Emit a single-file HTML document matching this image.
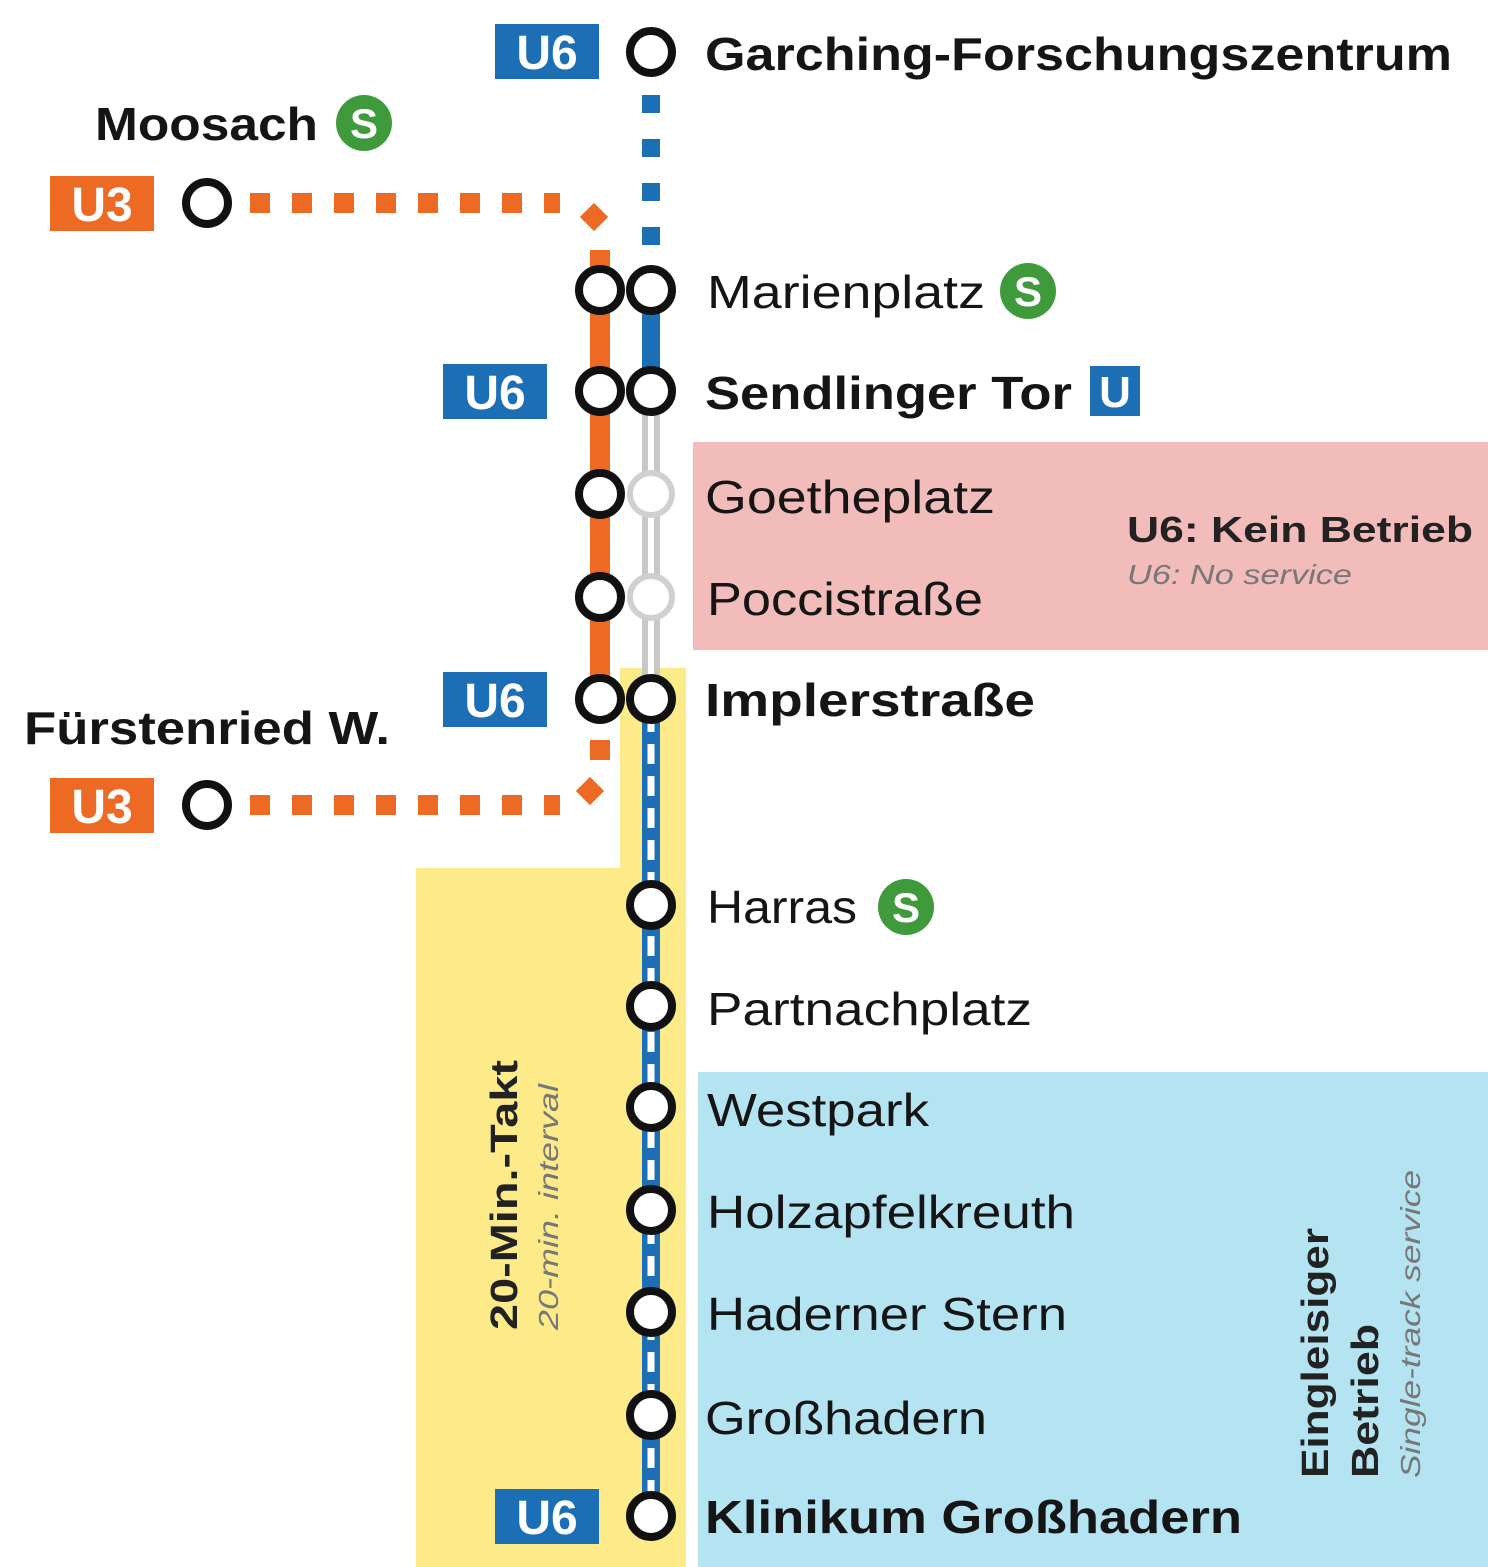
<!DOCTYPE html>
<html><head><meta charset="utf-8"><style>
html,body{margin:0;padding:0;background:#fff;}
svg{display:block;}
text{font-family:"Liberation Sans",sans-serif;}
</style></head><body>
<svg width="1488" height="1567" viewBox="0 0 1488 1567" xmlns="http://www.w3.org/2000/svg">
<defs>
<g id="sb"><circle r="28" fill="#3f9a3c"/><text x="0" y="15" text-anchor="middle" font-size="42" font-weight="bold" fill="#fff">S</text></g>
</defs>
<rect x="693" y="442" width="795" height="208" fill="#f2bcba"/>
<path d="M620 668 H686 V1567 H416 V868 H620 Z" fill="#fdeb8a"/>
<rect x="698" y="1072" width="790" height="495" fill="#b4e3f2"/>

<line x1="651" y1="95" x2="651" y2="245" stroke="#1c6fb5" stroke-width="18" stroke-dasharray="18 26"/>
<line x1="651" y1="290" x2="651" y2="391" stroke="#1c6fb5" stroke-width="18"/>
<line x1="651" y1="391" x2="651" y2="699" stroke="#c8c8c8" stroke-width="18"/>
<line x1="651" y1="391" x2="651" y2="699" stroke="#fff" stroke-width="6"/>
<line x1="651" y1="699" x2="651" y2="1516" stroke="#1c6fb5" stroke-width="18"/>
<line x1="651" y1="712" x2="651" y2="1516" stroke="#fff" stroke-width="7" stroke-dasharray="20 12"/>
<line x1="600" y1="250" x2="600" y2="699" stroke="#ec6a23" stroke-width="20"/>
<line x1="250" y1="203" x2="560" y2="203" stroke="#ec6a23" stroke-width="20" stroke-dasharray="20 22"/>
<rect x="584" y="207" width="20" height="20" fill="#ec6a23" transform="rotate(45 594 217)"/>
<line x1="600" y1="740" x2="600" y2="760" stroke="#ec6a23" stroke-width="20"/>
<line x1="250" y1="805" x2="560" y2="805" stroke="#ec6a23" stroke-width="20" stroke-dasharray="20 22"/>
<rect x="580" y="781" width="20" height="20" fill="#ec6a23" transform="rotate(45 590 791)"/>

<g fill="#fff" stroke="#111" stroke-width="8">
<circle cx="651" cy="52" r="21"/>
<circle cx="207" cy="203" r="21"/>
<circle cx="207" cy="805" r="21"/>
<circle cx="600" cy="290" r="21"/><circle cx="651" cy="290" r="21"/>
<circle cx="600" cy="391" r="21"/><circle cx="651" cy="391" r="21"/>
<circle cx="600" cy="494" r="21"/>
<circle cx="600" cy="597" r="21"/>
<circle cx="600" cy="699" r="21"/><circle cx="651" cy="699" r="21"/>
<circle cx="651" cy="905" r="21"/>
<circle cx="651" cy="1006" r="21"/>
<circle cx="651" cy="1107" r="21"/>
<circle cx="651" cy="1210" r="21"/>
<circle cx="651" cy="1312" r="21"/>
<circle cx="651" cy="1415" r="21"/>
<circle cx="651" cy="1516" r="21"/>
</g>
<g fill="#fff" stroke="#d0d0d0" stroke-width="6">
<circle cx="651" cy="494" r="21"/>
<circle cx="651" cy="597" r="21"/>
</g>

<g font-weight="bold" font-size="48" fill="#fff" text-anchor="middle">
<rect x="495" y="24" width="104" height="55" fill="#1c6fb5"/><text x="547" y="69">U6</text>
<rect x="443" y="364" width="104" height="55" fill="#1c6fb5"/><text x="495" y="409">U6</text>
<rect x="443" y="672" width="104" height="55" fill="#1c6fb5"/><text x="495" y="717">U6</text>
<rect x="495" y="1489" width="104" height="55" fill="#1c6fb5"/><text x="547" y="1534">U6</text>
<rect x="50" y="176" width="104" height="55" fill="#ec6a23"/><text x="102" y="221">U3</text>
<rect x="50" y="778" width="104" height="55" fill="#ec6a23"/><text x="102" y="823">U3</text>
<rect x="1090" y="366" width="50" height="50" fill="#1c6fb5"/><text x="1115" y="407" font-size="44">U</text>
</g>

<use href="#sb" x="364" y="123"/>
<use href="#sb" x="1028" y="291"/>
<use href="#sb" x="906" y="907"/>

<g font-size="46" fill="#151515">
<text x="705" y="70" font-weight="bold" textLength="747" lengthAdjust="spacingAndGlyphs">Garching-Forschungszentrum</text>
<text x="95" y="140" font-weight="bold" textLength="223" lengthAdjust="spacingAndGlyphs">Moosach</text>
<text x="707" y="308" textLength="278" lengthAdjust="spacingAndGlyphs">Marienplatz</text>
<text x="705" y="409" font-weight="bold" textLength="367" lengthAdjust="spacingAndGlyphs">Sendlinger Tor</text>
<text x="705" y="513" textLength="290" lengthAdjust="spacingAndGlyphs">Goetheplatz</text>
<text x="707" y="615" textLength="276" lengthAdjust="spacingAndGlyphs">Poccistraße</text>
<text x="705" y="716" font-weight="bold" textLength="330" lengthAdjust="spacingAndGlyphs">Implerstraße</text>
<text x="24" y="744" font-weight="bold" textLength="366" lengthAdjust="spacingAndGlyphs">Fürstenried W.</text>
<text x="707" y="923" textLength="150" lengthAdjust="spacingAndGlyphs">Harras</text>
<text x="707" y="1025" textLength="325" lengthAdjust="spacingAndGlyphs">Partnachplatz</text>
<text x="707" y="1126" textLength="222" lengthAdjust="spacingAndGlyphs">Westpark</text>
<text x="707" y="1228" textLength="368" lengthAdjust="spacingAndGlyphs">Holzapfelkreuth</text>
<text x="707" y="1330" textLength="360" lengthAdjust="spacingAndGlyphs">Haderner Stern</text>
<text x="705" y="1434" textLength="282" lengthAdjust="spacingAndGlyphs">Großhadern</text>
<text x="705" y="1533" font-weight="bold" textLength="537" lengthAdjust="spacingAndGlyphs">Klinikum Großhadern</text>
</g>
<text x="1127" y="542" font-size="36" font-weight="bold" fill="#222" textLength="346" lengthAdjust="spacingAndGlyphs">U6: Kein Betrieb</text>
<text x="1127" y="584" font-size="28" font-style="italic" fill="#777" textLength="225" lengthAdjust="spacingAndGlyphs">U6: No service</text>

<text transform="translate(517 1330) rotate(-90)" font-size="38" font-weight="bold" fill="#222" textLength="270" lengthAdjust="spacingAndGlyphs">20-Min.-Takt</text>
<text transform="translate(558 1330) rotate(-90)" font-size="28" font-style="italic" fill="#777" textLength="246" lengthAdjust="spacingAndGlyphs">20-min. interval</text>
<text transform="translate(1328 1478) rotate(-90)" font-size="38" font-weight="bold" fill="#222" textLength="250" lengthAdjust="spacingAndGlyphs">Eingleisiger</text>
<text transform="translate(1378 1478) rotate(-90)" font-size="38" font-weight="bold" fill="#222" textLength="154" lengthAdjust="spacingAndGlyphs">Betrieb</text>
<text transform="translate(1420 1478) rotate(-90)" font-size="28" font-style="italic" fill="#777" textLength="308" lengthAdjust="spacingAndGlyphs">Single-track service</text>
</svg>
</body></html>
